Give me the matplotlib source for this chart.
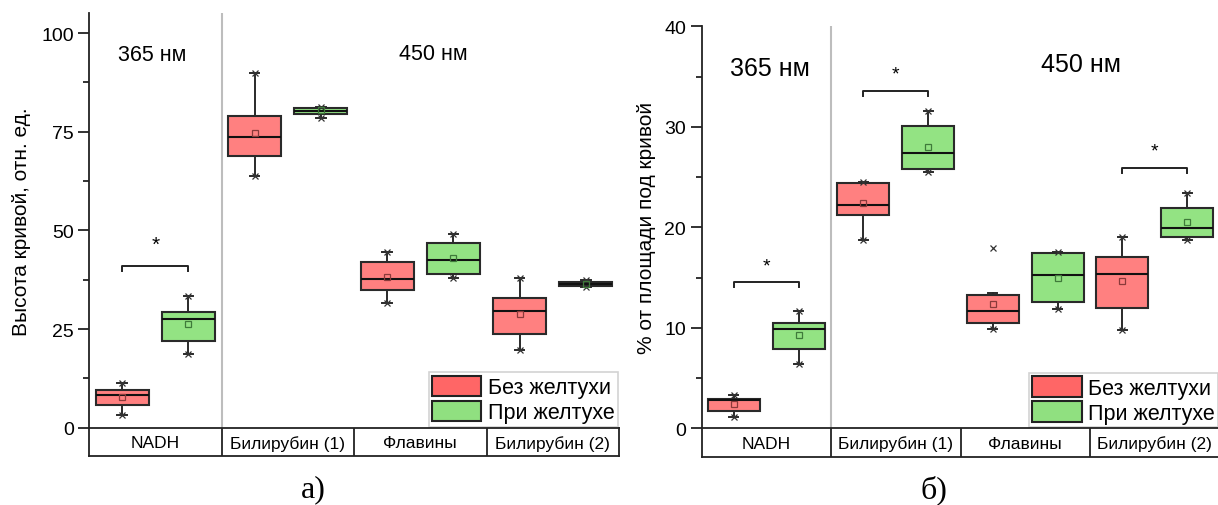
import matplotlib
matplotlib.use("Agg")
import matplotlib.pyplot as plt
from matplotlib.patches import Patch

plt.rcParams['font.family'] = ['Liberation Sans', 'DejaVu Sans']

categories = ['NADH', 'Билирубин (1)', 'Флавины', 'Билирубин (2)']
series_names = ['Без желтухи', 'При желтухе']

# Panel a) - curve height
h_red_whislo = [3.2, 63.7, 31.5, 19.7]
h_red_q1 = [5.8, 68.8, 34.8, 23.7]
h_red_med = [8.4, 73.7, 37.8, 29.5]
h_red_q3 = [9.55, 79.0, 42.1, 32.9]
h_red_whishi = [11.2, 89.8, 44.4, 37.9]
h_red_mean = [7.7, 74.7, 38.2, 28.7]
h_red_marks = [[3.2, 11.2], [63.7, 89.8], [31.5, 44.4], [19.7, 37.9]]

h_grn_whislo = [18.8, 78.4, 37.9, 35.6]
h_grn_q1 = [22.0, 79.5, 39.0, 35.9]
h_grn_med = [27.5, 80.2, 42.4, 36.3]
h_grn_q3 = [29.2, 80.9, 46.8, 37.0]
h_grn_whishi = [33.4, 81.3, 49.0, 37.3]
h_grn_mean = [26.3, 80.4, 43.0, 36.4]
h_grn_marks = [[18.8, 33.4], [78.4, 81.3], [37.9, 49.0], [35.6, 37.3]]

# Panel б) - % of area under curve
a_red_whislo = [1.09, 18.7, 9.88, 9.8]
a_red_q1 = [1.69, 21.2, 10.48, 12.0]
a_red_med = [2.85, 22.2, 11.67, 15.4]
a_red_q3 = [2.92, 24.4, 13.3, 17.0]
a_red_whishi = [3.35, 24.5, 13.5, 19.0]
a_red_mean = [2.39, 22.4, 12.37, 14.7]
a_red_marks = [[1.09, 3.35], [18.7, 24.5], [9.88, 17.9], [9.8, 19.0]]

a_grn_whislo = [6.4, 25.5, 11.9, 18.7]
a_grn_q1 = [7.89, 25.8, 12.6, 19.0]
a_grn_med = [9.85, 27.4, 15.3, 19.96]
a_grn_q3 = [10.48, 30.1, 17.4, 21.95]
a_grn_whishi = [11.7, 31.6, 17.5, 23.4]
a_grn_mean = [9.32, 28.0, 15.0, 20.5]
a_grn_marks = [[6.4, 11.7], [25.5, 31.6], [11.9, 17.5], [18.7, 23.4]]

# significance brackets: (category index, bracket level, star level)
h_sig = [(0, 41.0, 46.5)]
a_sig = [(0, 14.6, 16.2), (1, 33.6, 35.3), (3, 25.9, 27.6)]

RED_BOX = '#FF8080'
RED_LEG = '#FF6666'
GRN_BOX = '#93E383'
GRN_LEG = '#90E080'
EDGE = '#2a2a2a'


def make_stats(wl, q1, med, q3, wh, mean, marks):
    out = []
    for i in range(len(wl)):
        out.append(dict(whislo=wl[i], q1=q1[i], med=med[i], q3=q3[i],
                        whishi=wh[i], mean=mean[i], fliers=marks[i]))
    return out


def draw_panel(fig, rect_main, rect_tab, ylim, yticks, yminor, ylabel,
               label_x, red, grn, sig, bracket_drop, star_size,
               nm_texts, nm_size, leg_size):
    ax = fig.add_axes(rect_main)
    tab = fig.add_axes(rect_tab)
    n = len(categories)
    pos_r = [i - 0.25 for i in range(n)]
    pos_g = [i + 0.25 for i in range(n)]
    for stats, pos, fc, mc in [(red, pos_r, RED_BOX, '#8a3a3a'),
                               (grn, pos_g, GRN_BOX, '#3f7a3a')]:
        ax.bxp(stats, positions=pos, widths=0.4, patch_artist=True,
               showmeans=True, showcaps=True, showfliers=True, capwidths=0.07,
               boxprops=dict(facecolor=fc, edgecolor=EDGE, linewidth=1.5),
               medianprops=dict(color='#111111', linewidth=1.5),
               whiskerprops=dict(color=EDGE, linewidth=1.4),
               capprops=dict(color=EDGE, linewidth=1.4),
               meanprops=dict(marker='s', markersize=5, markerfacecolor='none',
                              markeredgecolor=mc, markeredgewidth=0.9),
               flierprops=dict(marker='x', markersize=5, markeredgecolor='#333333',
                               markeredgewidth=0.9))
    ax.set_xlim(-0.5, n - 0.5)
    ax.set_ylim(*ylim)
    ax.set_yticks(yticks)
    ax.set_yticks(yminor, minor=True)
    ax.set_xticks([])
    for s in ['top', 'right', 'bottom']:
        ax.spines[s].set_visible(False)
    ax.spines['left'].set_linewidth(1.3)
    ax.spines['left'].set_color('#222222')
    ax.tick_params(axis='y', which='major', length=8, width=1.3, labelsize=14,
                   direction='out', pad=3, color='#222222')
    ax.tick_params(axis='y', which='minor', length=4, width=1.3,
                   direction='out', color='#222222')
    ax.set_ylabel(ylabel, fontsize=15)
    ax.yaxis.set_label_coords(label_x, 0.5)
    ax.axvline(0.5, color='#bdbdbd', linewidth=1.5, zorder=0)
    ax.patch.set_alpha(0)

    for ci, yb, ys in sig:
        x1, x2 = ci - 0.25, ci + 0.25
        ax.plot([x1, x1, x2, x2], [yb - bracket_drop, yb, yb, yb - bracket_drop],
                color='#222222', linewidth=1.4)
        ax.text(ci, ys, '*', ha='center', va='center', fontsize=star_size)

    for (tx, ty, s) in nm_texts:
        ax.text(tx, ty, s, ha='center', va='center', fontsize=nm_size)

    handles = [Patch(facecolor=RED_LEG, edgecolor='#222222', linewidth=1.5),
               Patch(facecolor=GRN_LEG, edgecolor='#222222', linewidth=1.5)]
    leg = ax.legend(handles, series_names, loc='lower right',
                    bbox_to_anchor=(1.0, 0.0), borderaxespad=0.05,
                    fontsize=leg_size, handlelength=2.3, handleheight=1.1,
                    labelspacing=0.12, handletextpad=0.3, borderpad=0.15,
                    frameon=True, fancybox=False)
    leg.get_frame().set_edgecolor('#c8c8c8')
    leg.get_frame().set_linewidth(1.2)

    tab.set_xlim(-0.5, n - 0.5)
    tab.set_ylim(0, 1)
    tab.set_xticks([])
    tab.set_yticks([])
    for s in tab.spines.values():
        s.set_linewidth(1.3)
        s.set_color('#222222')
    for b in range(1, n):
        tab.axvline(b - 0.5, color='#222222', linewidth=1.3)
    for i, c in enumerate(categories):
        tab.text(i, 0.47, c, ha='center', va='center', fontsize=12.5)
    return ax


fig = plt.figure(figsize=(12.18, 5.06), dpi=100)
W, H = 1218.0, 506.0

red_h = make_stats(h_red_whislo, h_red_q1, h_red_med, h_red_q3, h_red_whishi, h_red_mean, h_red_marks)
grn_h = make_stats(h_grn_whislo, h_grn_q1, h_grn_med, h_grn_q3, h_grn_whishi, h_grn_mean, h_grn_marks)
red_a = make_stats(a_red_whislo, a_red_q1, a_red_med, a_red_q3, a_red_whishi, a_red_mean, a_red_marks)
grn_a = make_stats(a_grn_whislo, a_grn_q1, a_grn_med, a_grn_q3, a_grn_whishi, a_grn_mean, a_grn_marks)

# left panel geometry (pixels)
l0, l1 = 89.0, 619.0
ly0, ly_top, ly_tab = 428.7, 14.3, 457.0
draw_panel(fig,
           [l0 / W, (H - ly0) / H, (l1 - l0) / W, (ly0 - ly_top) / H],
           [l0 / W, (H - ly_tab) / H, (l1 - l0) / W, (ly_tab - ly0) / H],
           (0, 105), [0, 25, 50, 75, 100], [12.5, 37.5, 62.5, 87.5],
           'Высота кривой, отн. ед.', -0.109, red_h, grn_h, h_sig, 1.2, 15,
           [(-0.02, 94.5, '365 нм'), (2.1, 94.7, '450 нм')], 15.5, 15.5)

# right panel geometry (pixels)
r0, r1 = 701.5, 1219.5
ry0, ry_top, ry_tab = 429.3, 27.3, 457.7
draw_panel(fig,
           [r0 / W, (H - ry0) / H, (r1 - r0) / W, (ry0 - ry_top) / H],
           [r0 / W, (H - ry_tab) / H, (r1 - r0) / W, (ry_tab - ry0) / H],
           (0, 40), [0, 10, 20, 30, 40], [5, 15, 25, 35],
           '% от площади под кривой', -0.087, red_a, grn_a, a_sig, 0.5, 14,
           [(0.03, 35.85, '365 нм'), (2.43, 36.25, '450 нм')], 18, 15.5)

fig.text(313 / W, 1 - 490 / H, 'а)', ha='center', va='center', fontsize=23,
         family=['Liberation Serif', 'DejaVu Serif'])
fig.text(934 / W, 1 - 490 / H, 'б)', ha='center', va='center', fontsize=23,
         family=['Liberation Serif', 'DejaVu Serif'])

fig.savefig('out.png', dpi=100)
